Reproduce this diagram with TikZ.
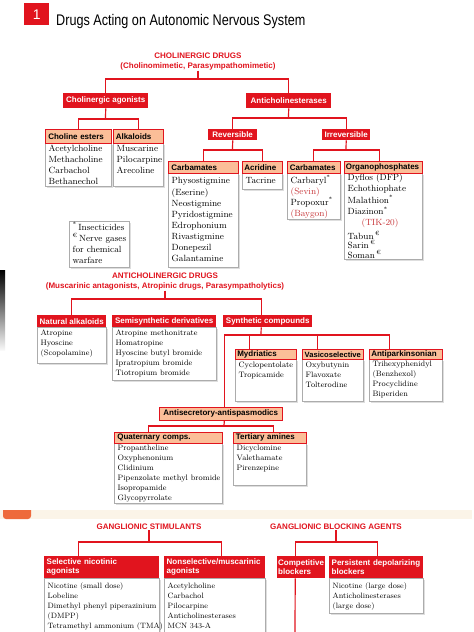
\documentclass[tikz,border=0pt]{standalone}
\usepackage{fontspec}
\usepackage{array}
\newfontfamily\hdfont{Liberation Sans}
\newfontfamily\ttlfont[FakeStretch=0.82]{Liberation Sans}
\usetikzlibrary{calc,shadows}
\definecolor{ared}{HTML}{E1141E}
\definecolor{peach}{HTML}{FBBE98}
\definecolor{txred}{HTML}{C8373A}
\definecolor{cream}{HTML}{FBF4E8}
\definecolor{orng}{HTML}{EE6A3C}
\newcommand\bbox[8]{\node[bx,font=#8] (#1) at (#2,#3) {\parbox[t][#5pt][t]{\dimexpr#4pt-7pt\relax}{\vspace*{#6pt}\begin{tabular}[t]{@{}l@{}}#7\end{tabular}}};}
\newcommand\sbt{\fontsize{9}{11.1}\selectfont}
\newcommand\smd{\fontsize{7.85}{10}\selectfont}
\newcommand\sbo{\fontsize{7.7}{10}\selectfont}
\newcommand\eu{\textsuperscript{€}}
\newcommand\as{\textsuperscript{*}}
\begin{document}
\begin{tikzpicture}[x=1pt,y=-1pt,
 conn/.style={draw=ared, line width=1.2pt},
 rh/.style={fill=ared, text=white, font=\hdfont\bfseries\fontsize{8}{9.3}\selectfont, inner sep=0pt, anchor=north west, align=center},
 rhl/.style={rh, align=left},
 ph/.style={fill=peach, draw=ared, line width=0.6pt, text=black, font=\hdfont\bfseries\fontsize{8}{9.5}\selectfont, inner sep=0pt, anchor=north west, align=left},
 bx/.style={draw=gray!65, fill=white, line width=0.4pt, drop shadow={shadow xshift=1.3pt, shadow yshift=-1.3pt, fill=gray!50}, inner ysep=0pt, inner xsep=3.5pt, anchor=north west},
 hd/.style={text=ared, font=\hdfont\bfseries\fontsize{8}{10.5}\selectfont, align=center, inner sep=0pt},
]
\useasboundingbox (0,0) rectangle (474,632);
\clip (0,0) rectangle (474,632);
\fill[white] (0,0) rectangle (474,632);

% title
\node[fill=ared, minimum width=25pt, minimum height=22pt, anchor=north west, inner sep=0pt, text=white, font=\hdfont\fontsize{14}{14}\selectfont] (num) at (24,3) {1};
\node[anchor=base west, inner sep=0pt, font=\ttlfont\fontsize{15.4}{16}\selectfont] (ttl) at (56,25) {Drugs Acting on Autonomic Nervous System};

% ===== cholinergic
\node[hd] (cd) at (198,61.5) {CHOLINERGIC DRUGS\\(Cholinomimetic, Parasympathomimetic)};
\node[rh, minimum width=85pt, minimum height=15pt] (ca) at (63,93) {Cholinergic agonists};
\node[rh, minimum width=85pt, minimum height=15pt] (ac) at (246,93) {Anticholinesterases};

\bbox{ceb}{45}{143}{66}{43}{0.5}{Acetylcholine\\Methacholine\\Carbachol\\Bethanechol}{\sbt}
\node[ph, minimum width=66pt, minimum height=14pt, text width=60pt] (ce) at (45,129) {Choline esters};
\bbox{alkb}{113}{143}{50}{43}{0.5}{Muscarine\\Pilocarpine\\Arecoline}{\sbt}
\node[ph, minimum width=50pt, minimum height=14pt, text width=45pt] (alk) at (113,129) {Alkaloids};

\node[rh, minimum width=49pt, minimum height=11pt] (rev) at (208,129) {Reversible};
\node[rh, minimum width=48pt, minimum height=11pt] (irr) at (322,129) {Irreversible};

\bbox{carb1b}{168}{173}{70}{94}{3}{Physostigmine\\(Eserine)\\Neostigmine\\Pyridostigmine\\Edrophonium\\Rivastigmine\\Donepezil\\Galantamine}{\sbt}
\node[ph, minimum width=70pt, minimum height=12pt, text width=64pt] (carb1) at (168,161) {Carbamates};
\bbox{acrb}{242}{173}{40}{16}{3}{Tacrine}{\sbt}
\node[ph, minimum width=40pt, minimum height=12pt, text width=36pt] (acr) at (242,161) {Acridine};
\bbox{carb2b}{287}{173}{53}{46}{1.5}{Carbaryl\as\\{\color{txred}(Sevin)}\\Propoxur\as\\{\color{txred}(Baygon)}}{\sbt}
\node[ph, minimum width=53pt, minimum height=12pt, text width=48pt] (carb2) at (287,161) {Carbamates};
\bbox{orgb}{344}{173}{78}{86}{-0.5}{Dyflos (DFP)\\Echothiophate\\Malathion\as\\Diazinon\as\\\hspace*{14pt}{\color{txred}(TIK-20)}\\[2pt]Tabun\,\eu\\[-2pt]Sarin\,\eu\\[-2pt]Soman\,\eu}{\sbt}
\node[ph, minimum width=78pt, minimum height=12pt, text width=75pt] (org) at (344,161) {Organophosphates};

\bbox{fn}{69}{221}{60}{46}{0.5}{\as\,Insecticides\\\eu\,Nerve gases\\for chemical\\warfare}{\sbt}

\coordinate (b1) at (198,79);
\coordinate (b2) at (105.5,119);
\coordinate (b3) at (288.5,118);
\coordinate (b4) at (232.5,150);
\coordinate (b5) at (346,150);
\draw[conn] (cd.south) -- (b1);
\draw[conn] (ca.north) |- (b1) -| (ac.north);
\draw[conn] (ca.south) -- (b2);
\draw[conn] (ce.north) |- (b2) -| (alk.north);
\draw[conn] (ac.south) -- (b3);
\draw[conn] (rev.north) |- (b3) -| (irr.north);
\draw[conn] (rev.south) -- (b4);
\draw[conn] (carb1.north) |- (b4) -| (acr.north);
\draw[conn] (irr.south) -- (b5);
\draw[conn] (carb2.north) |- (b5) -| ($(org.north)+(-4,0)$);

% dark edge
\shade[top color=black, middle color=black!75, bottom color=gray!5] (0,270) rectangle (5,350);

% ===== anticholinergic
\node[hd] (acd) at (165,281.5) {ANTICHOLINERGIC DRUGS\\(Muscarinic antagonists, Atropinic drugs, Parasympatholytics)};
\bbox{natb}{37}{327}{69}{36}{1.5}{Atropine\\Hyoscine\\(Scopolamine)}{\smd}
\node[rh, minimum width=69pt, minimum height=12pt] (nat) at (37,315) {Natural alkaloids};
\bbox{semib}{112}{327}{104}{53}{1.5}{Atropine methonitrate\\Homatropine\\Hyoscine butyl bromide\\Ipratropium bromide\\Tiotropium bromide}{\smd}
\node[rh, minimum width=104pt, minimum height=12pt] (semi) at (112,315) {Semisynthetic derivatives};
\node[rh, minimum width=89pt, minimum height=12pt] (syn) at (223,315) {Synthetic compounds};

\bbox{mydb}{235}{359}{61}{42}{1}{Cyclopentolate\\Tropicamide}{\smd}
\node[ph, minimum width=61pt, minimum height=10pt, text width=57pt] (myd) at (235,349) {Mydriatics};
\bbox{vasb}{302}{359}{61}{42}{1}{Oxybutynin\\Flavoxate\\Tolterodine}{\smd}
\node[ph, minimum width=61pt, minimum height=10pt, align=center, font=\hdfont\bfseries\fontsize{7.6}{9}\selectfont] (vas) at (302,349) {Vasicoselective};
\bbox{antb}{369}{359}{73}{42}{0.5}{Trihexyphenidyl\\(Benzhexol)\\Procyclidine\\Biperiden}{\smd}
\node[ph, minimum width=73pt, minimum height=10pt, text width=69pt] (ant) at (369,349) {Antiparkinsonian};

\node[ph, minimum width=123pt, minimum height=13pt, align=center] (asp) at (159,407) {Antisecretory-antispasmodics};
\bbox{quatb}{114}{443}{108}{60}{0.5}{Propantheline\\Oxyphenonium\\Clidinium\\Pipenzolate methyl bromide\\Isopropamide\\Glycopyrrolate}{\smd}
\node[ph, minimum width=108pt, minimum height=11pt, text width=102pt] (quat) at (114,432) {Quaternary comps.};
\bbox{terb}{233}{443}{73}{42}{0.5}{Dicyclomine\\Valethamate\\Pirenzepine}{\smd}
\node[ph, minimum width=73pt, minimum height=11pt, text width=68pt] (ter) at (233,432) {Tertiary amines};

\coordinate (b6) at (165,299);
\coordinate (b7) at (261,335);
\coordinate (b8) at (224,426);
\draw[conn] (acd.south) -- (b6);
\draw[conn] (nat.north) |- (b6) -| ($(syn.north)+(-6.5,0)$);
\draw[conn] ($(syn.south)+(-6.5,0)$) -- (b7);
\draw[conn] ($(asp.north)+(3.5,0)$) |- (b7) -| ($(ant.north)+(-16,0)$);
\draw[conn] ($(myd.north)+(-16.5,0)$) -- +(0,-14);
\draw[conn] ($(vas.north)+(-15,0)$) -- +(0,-14);
\draw[conn] ($(asp.south)+(3.5,0)$) -- (b8);
\draw[conn] ($(quat.north)+(-20,0)$) |- (b8) -| ($(ter.north)+(3.5,0)$);

% ===== strip
\fill[cream] (0,510) rectangle (472,519);
\fill[orng] (3,510) [rounded corners=3pt] -- (3,519) -- (31,519) [sharp corners] -- (31,510) -- cycle;

% ===== ganglionic
\node[hd] (gs) at (149,527) {GANGLIONIC STIMULANTS};
\node[hd] (gb) at (336,527) {GANGLIONIC BLOCKING AGENTS};
\bbox{selb}{44}{578}{115}{70}{3.5}{Nicotine (small dose)\\Lobeline\\Dimethyl phenyl piperazinium\\(DMPP)\\Tetramethyl ammonium (TMA)}{\sbo}
\node[rhl, minimum width=115pt, minimum height=22pt, text width=110pt] (sel) at (44,556) {Selective nicotinic\\agonists};
\bbox{nonb}{164}{578}{101}{70}{3.5}{Acetylcholine\\Carbachol\\Pilocarpine\\Anticholinesterases\\MCN 343-A}{\sbo}
\node[rhl, minimum width=101pt, minimum height=22pt, text width=96pt] (non) at (164,556) {Nonselective/muscarinic\\agonists};
\node[rhl, minimum width=48pt, minimum height=22pt, text width=46pt] (comp) at (277,556) {Competitive\\blockers};
\bbox{persb}{329}{578}{94}{35}{3.5}{Nicotine (large dose)\\Anticholinesterases\\(large dose)}{\sbo}
\node[rhl, minimum width=94pt, minimum height=22pt, text width=89pt] (pers) at (329,556) {Persistent depolarizing\\blockers};

\coordinate (b9) at (149,542);
\coordinate (b10) at (336,542);
\coordinate (cend) at (295,640);
\draw[conn] (gs.south) -- (b9);
\draw[conn] ($(sel.north)+(-23.5,0)$) |- (b9) -| ($(non.north)+(6.5,0)$);
\draw[conn] (gb.south) -- (b10);
\draw[conn] ($(comp.north)+(-6,0)$) |- (b10) -| ($(pers.north)+(1,0)$);
\draw[conn] ($(comp.south)+(-6,0)$) -- (cend);
\end{tikzpicture}
\end{document}
